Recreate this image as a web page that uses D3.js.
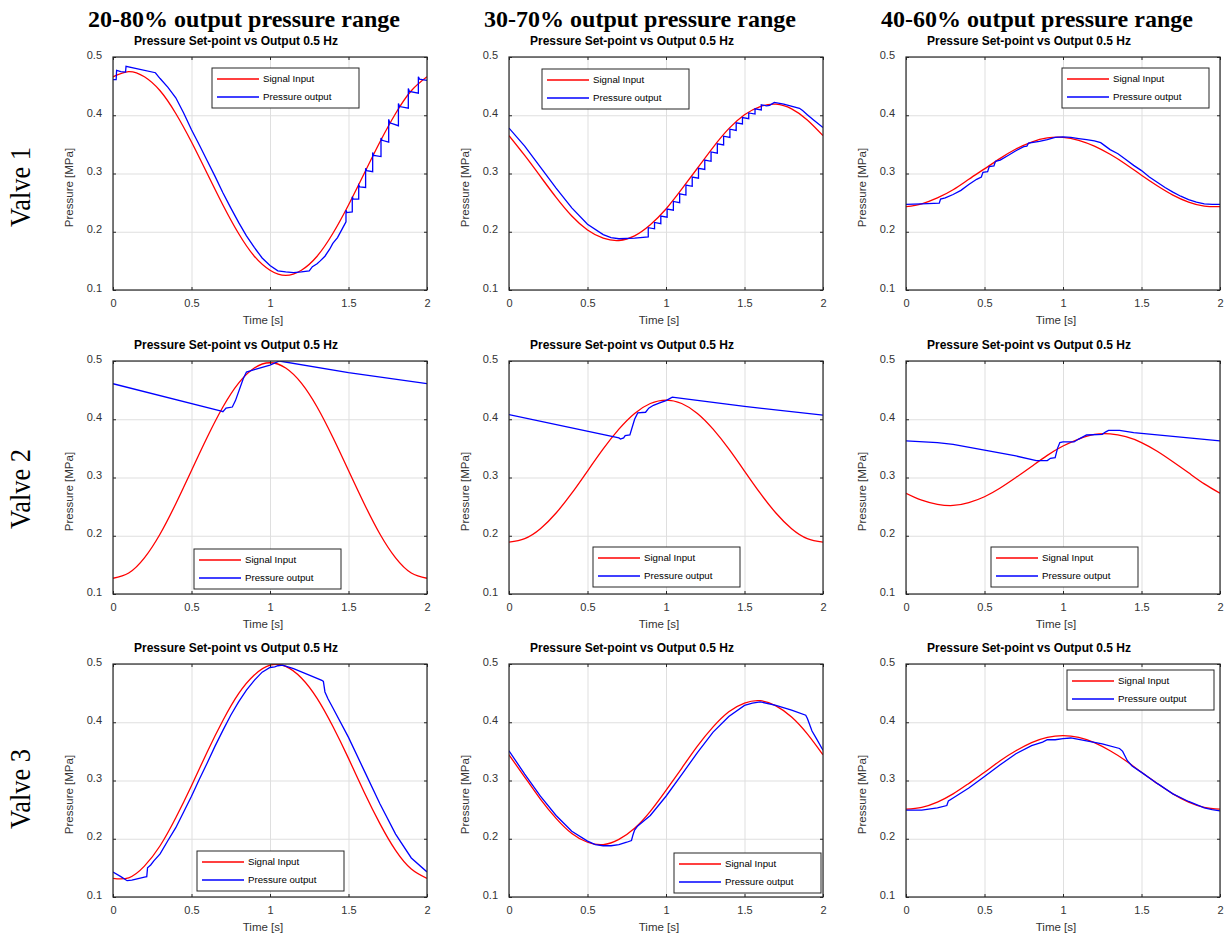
<!DOCTYPE html>
<html>
<head>
<meta charset="utf-8">
<script src="https://cdn.jsdelivr.net/npm/d3@7/dist/d3.min.js"></script>
<style>
  body { margin: 0; background: #fff; }
  svg text { font-family: "Liberation Sans", Arial, sans-serif; }
</style>
</head>
<body>
<svg id="chart" width="1225" height="939"></svg>
<script>
const columnTitles = ['20-80% output pressure range', '30-70% output pressure range', '40-60% output pressure range'];
const rowTitles = ['Valve 1', 'Valve 2', 'Valve 3'];
const plotTitle = 'Pressure Set-point vs Output 0.5 Hz';
const seriesNames = ['Signal Input', 'Pressure output'];
const xTicks = [0, 0.5, 1, 1.5, 2];
const yTicks = [0.1, 0.2, 0.3, 0.4, 0.5];

// sample times of the set-point curves
const timeGrid = [0, 0.1, 0.2, 0.3, 0.4, 0.5, 0.6, 0.7, 0.8, 0.9, 1, 1.1, 1.2, 1.3, 1.4, 1.5, 1.6, 1.7, 1.8, 1.9, 2];

// signal input (set-point), MPa
const inV1_2080 = [0.466, 0.475, 0.466, 0.442, 0.403, 0.354, 0.300, 0.246, 0.197, 0.158, 0.134, 0.125, 0.134, 0.158, 0.197, 0.246, 0.300, 0.354, 0.403, 0.442, 0.466];
const inV1_3070 = [0.365, 0.331, 0.295, 0.259, 0.227, 0.203, 0.189, 0.185, 0.193, 0.212, 0.239, 0.273, 0.309, 0.345, 0.377, 0.401, 0.415, 0.419, 0.411, 0.392, 0.365];
const inV1_4060 = [0.243, 0.248, 0.258, 0.272, 0.290, 0.308, 0.326, 0.342, 0.354, 0.361, 0.362, 0.357, 0.347, 0.333, 0.316, 0.297, 0.279, 0.263, 0.251, 0.244, 0.243];
const inV2_2080 = [0.127, 0.136, 0.162, 0.203, 0.255, 0.312, 0.369, 0.421, 0.462, 0.488, 0.497, 0.488, 0.462, 0.421, 0.369, 0.312, 0.255, 0.203, 0.162, 0.136, 0.127];
const inV2_3070 = [0.189, 0.195, 0.212, 0.239, 0.273, 0.311, 0.349, 0.383, 0.410, 0.427, 0.433, 0.427, 0.410, 0.383, 0.349, 0.311, 0.273, 0.239, 0.212, 0.195, 0.189];
const inV2_4060 = [0.273, 0.261, 0.254, 0.252, 0.257, 0.267, 0.282, 0.300, 0.319, 0.338, 0.354, 0.366, 0.374, 0.375, 0.370, 0.360, 0.345, 0.327, 0.308, 0.289, 0.273];
const inV3_2080 = [0.132, 0.133, 0.153, 0.188, 0.236, 0.291, 0.349, 0.403, 0.449, 0.481, 0.498, 0.496, 0.476, 0.441, 0.393, 0.338, 0.280, 0.226, 0.180, 0.148, 0.132];
const inV3_3070 = [0.344, 0.306, 0.268, 0.235, 0.209, 0.194, 0.190, 0.199, 0.218, 0.247, 0.283, 0.321, 0.359, 0.392, 0.418, 0.433, 0.437, 0.428, 0.409, 0.380, 0.344];
const inV3_4060 = [0.251, 0.254, 0.263, 0.277, 0.295, 0.314, 0.334, 0.351, 0.365, 0.374, 0.377, 0.374, 0.365, 0.351, 0.334, 0.314, 0.295, 0.277, 0.263, 0.254, 0.251];

// measured pressure output, [time s, MPa]
const outV1_2080 = [[0,0.461],[0.02,0.461],[0.023,0.477],[0.05,0.475],[0.08,0.474],[0.083,0.484],[0.15,0.480],[0.27,0.473],[0.30,0.463],[0.35,0.448],[0.40,0.430],[0.45,0.404],[0.50,0.375],[0.55,0.349],[0.60,0.322],[0.65,0.295],[0.70,0.267],[0.75,0.241],[0.80,0.216],[0.85,0.193],[0.90,0.173],[0.95,0.155],[1.00,0.142],[1.05,0.133],[1.10,0.131],[1.15,0.130],[1.20,0.131],[1.25,0.133],[1.27,0.140],[1.30,0.145],[1.32,0.150],[1.35,0.158],[1.38,0.170],[1.40,0.180],[1.43,0.190],[1.46,0.205],[1.484,0.217],[1.484,0.237],[1.49,0.233],[1.524,0.234],[1.524,0.260],[1.53,0.256],[1.565,0.256],[1.565,0.280],[1.572,0.277],[1.609,0.276],[1.609,0.309],[1.616,0.305],[1.654,0.303],[1.654,0.336],[1.661,0.331],[1.707,0.329],[1.707,0.361],[1.714,0.357],[1.756,0.354],[1.756,0.393],[1.763,0.387],[1.818,0.382],[1.818,0.420],[1.825,0.415],[1.881,0.412],[1.881,0.446],[1.888,0.441],[1.945,0.438],[1.945,0.466],[1.952,0.462],[2.0,0.460]];
const outV1_3070 = [[0,0.378],[0.1,0.347],[0.2,0.311],[0.3,0.275],[0.4,0.241],[0.5,0.213],[0.6,0.195],[0.65,0.190],[0.7,0.188],[0.8,0.189],[0.887,0.191],[0.887,0.207],[0.927,0.205],[0.927,0.216],[0.967,0.214],[0.967,0.227],[1.007,0.225],[1.007,0.239],[1.047,0.237],[1.047,0.252],[1.087,0.250],[1.087,0.265],[1.127,0.263],[1.127,0.280],[1.167,0.278],[1.167,0.294],[1.207,0.292],[1.207,0.309],[1.247,0.307],[1.247,0.323],[1.287,0.321],[1.287,0.337],[1.327,0.335],[1.327,0.351],[1.367,0.349],[1.367,0.364],[1.407,0.362],[1.407,0.376],[1.447,0.374],[1.447,0.387],[1.487,0.385],[1.487,0.396],[1.527,0.394],[1.527,0.404],[1.567,0.402],[1.567,0.411],[1.607,0.409],[1.607,0.418],[1.64,0.416],[1.66,0.417],[1.69,0.422],[1.75,0.419],[1.85,0.412],[1.87,0.408],[1.9,0.401],[1.94,0.392],[2.0,0.379]];
const outV1_4060 = [[0,0.247],[0.1,0.248],[0.212,0.249],[0.22,0.256],[0.25,0.258],[0.3,0.264],[0.35,0.271],[0.4,0.281],[0.45,0.290],[0.48,0.294],[0.49,0.302],[0.52,0.303],[0.53,0.312],[0.56,0.313],[0.57,0.321],[0.6,0.323],[0.65,0.331],[0.7,0.339],[0.75,0.346],[0.77,0.347],[0.78,0.352],[0.85,0.355],[0.9,0.358],[0.95,0.362],[1.0,0.363],[1.05,0.362],[1.1,0.360],[1.15,0.358],[1.2,0.356],[1.24,0.353],[1.27,0.347],[1.3,0.341],[1.35,0.334],[1.4,0.324],[1.45,0.314],[1.5,0.305],[1.55,0.294],[1.6,0.285],[1.65,0.276],[1.7,0.268],[1.75,0.261],[1.8,0.255],[1.85,0.251],[1.9,0.248],[1.95,0.247],[2.0,0.247]];
const outV2_2080 = [[0,0.461],[0.69,0.414],[0.70,0.413],[0.72,0.419],[0.76,0.421],[0.78,0.432],[0.83,0.470],[0.85,0.481],[0.90,0.485],[1.0,0.493],[1.06,0.500],[1.5,0.480],[2.0,0.461]];
const outV2_3070 = [[0,0.408],[0.70,0.368],[0.71,0.366],[0.73,0.368],[0.74,0.372],[0.77,0.373],[0.80,0.400],[0.82,0.411],[0.87,0.412],[0.89,0.419],[0.92,0.424],[0.96,0.428],[1.0,0.432],[1.04,0.438],[1.1,0.436],[1.5,0.422],[2.0,0.407]];
const outV2_4060 = [[0,0.363],[0.2,0.360],[0.3,0.357],[0.5,0.347],[0.7,0.337],[0.83,0.329],[0.90,0.329],[0.92,0.333],[0.95,0.334],[0.965,0.350],[0.98,0.360],[1.0,0.361],[1.07,0.361],[1.1,0.366],[1.15,0.373],[1.25,0.374],[1.27,0.378],[1.29,0.381],[1.36,0.381],[1.45,0.377],[1.6,0.373],[1.8,0.368],[2.0,0.363]];
const outV3_2080 = [[0,0.143],[0.05,0.135],[0.09,0.128],[0.12,0.129],[0.2,0.134],[0.215,0.135],[0.22,0.150],[0.24,0.155],[0.26,0.162],[0.3,0.174],[0.35,0.197],[0.4,0.219],[0.45,0.246],[0.5,0.273],[0.55,0.302],[0.6,0.330],[0.65,0.359],[0.7,0.386],[0.75,0.412],[0.8,0.435],[0.85,0.455],[0.9,0.472],[0.95,0.486],[1.0,0.494],[1.03,0.495],[1.05,0.497],[1.08,0.498],[1.15,0.492],[1.25,0.481],[1.33,0.472],[1.34,0.470],[1.35,0.452],[1.37,0.440],[1.4,0.425],[1.5,0.374],[1.6,0.317],[1.7,0.260],[1.8,0.208],[1.9,0.167],[2.0,0.143]];
const outV3_3070 = [[0,0.351],[0.1,0.311],[0.2,0.273],[0.3,0.240],[0.4,0.213],[0.5,0.196],[0.55,0.190],[0.6,0.188],[0.65,0.188],[0.7,0.190],[0.75,0.194],[0.78,0.197],[0.79,0.207],[0.80,0.215],[0.82,0.222],[0.9,0.240],[1.0,0.273],[1.1,0.310],[1.2,0.348],[1.3,0.383],[1.4,0.410],[1.5,0.429],[1.55,0.433],[1.6,0.435],[1.7,0.429],[1.8,0.421],[1.89,0.412],[1.9,0.407],[1.93,0.385],[1.96,0.371],[2.0,0.352]];
const outV3_4060 = [[0,0.249],[0.1,0.249],[0.2,0.253],[0.26,0.257],[0.27,0.265],[0.3,0.270],[0.4,0.287],[0.5,0.307],[0.6,0.327],[0.7,0.346],[0.8,0.360],[0.87,0.366],[0.9,0.370],[0.95,0.370],[1.0,0.372],[1.05,0.373],[1.15,0.368],[1.25,0.363],[1.36,0.355],[1.38,0.350],[1.41,0.334],[1.44,0.325],[1.5,0.314],[1.6,0.295],[1.7,0.277],[1.8,0.264],[1.9,0.253],[1.95,0.250],[2.0,0.248]];

const panels = [
  [inV1_2080, outV1_2080], [inV1_3070, outV1_3070], [inV1_4060, outV1_4060],
  [inV2_2080, outV2_2080], [inV2_3070, outV2_3070], [inV2_4060, outV2_4060],
  [inV3_2080, outV3_2080], [inV3_3070, outV3_3070], [inV3_4060, outV3_4060]
];

// layout
const colLeft = [113, 509, 906];
const rowTop = [57, 361, 664];
const plotW = 314, plotH = 233;
const rowLabelY = [187, 489, 789];
const legendOffset = [[99, 11], [33, 12], [156, 11], [81, 188], [84, 186], [85, 186], [84, 187], [165, 189], [161, 6]];
const colors = ['#ff0000', '#0000ff'];
const axisColor = '#262626';

const svg = d3.select('#chart');

const x = d3.scaleLinear().domain([0, 2]).range([0, plotW]);
const y = d3.scaleLinear().domain([0.1, 0.5]).range([plotH, 0]);

const inputLine = d3.line()
    .x((d, i) => x(timeGrid[i]))
    .y(d => y(d))
    .curve(d3.curveNatural);
const outputLine = d3.line()
    .x(d => x(d[0]))
    .y(d => y(d[1]));

columnTitles.forEach((t, c) => {
  svg.append('text')
    .attr('x', colLeft[c] + plotW / 2 - 26)
    .attr('y', 27)
    .attr('text-anchor', 'middle')
    .style('font-family', '"Liberation Serif", "Times New Roman", serif')
    .style('font-weight', 'bold')
    .style('font-size', '24px')
    .text(t);
});

rowTitles.forEach((t, r) => {
  svg.append('text')
    .attr('transform', `translate(30,${rowLabelY[r]}) rotate(-90)`)
    .attr('text-anchor', 'middle')
    .attr('textLength', 80)
    .attr('lengthAdjust', 'spacingAndGlyphs')
    .style('font-family', '"Liberation Serif", "Times New Roman", serif')
    .style('font-size', '30px')
    .text(t);
});

panels.forEach((p, k) => {
  const r = Math.floor(k / 3), c = k % 3;
  const g = svg.append('g')
      .attr('transform', `translate(${colLeft[c]},${rowTop[r]})`);

  // grid
  g.append('g')
      .attr('transform', `translate(0,${plotH})`)
      .call(d3.axisBottom(x).tickValues(xTicks).tickSize(-plotH).tickFormat(''))
      .call(a => a.select('.domain').remove())
      .selectAll('line').attr('stroke', '#dfdfdf');
  g.append('g')
      .call(d3.axisLeft(y).tickValues(yTicks).tickSize(-plotW).tickFormat(''))
      .call(a => a.select('.domain').remove())
      .selectAll('line').attr('stroke', '#dfdfdf');

  const clipId = 'clip' + k;
  g.append('clipPath').attr('id', clipId)
    .append('rect').attr('width', plotW).attr('height', plotH);

  const lines = g.append('g').attr('clip-path', `url(#${clipId})`);
  lines.append('path')
      .datum(p[0])
      .attr('d', inputLine)
      .attr('fill', 'none')
      .attr('stroke', colors[0])
      .attr('stroke-width', 1.3);
  lines.append('path')
      .datum(p[1])
      .attr('d', outputLine)
      .attr('fill', 'none')
      .attr('stroke', colors[1])
      .attr('stroke-width', 1.3);

  // axes with inward ticks on all four sides
  const xb = g.append('g')
      .attr('transform', `translate(0,${plotH})`)
      .call(d3.axisBottom(x).tickValues(xTicks).tickSize(-3).tickPadding(9).tickFormat(d3.format('')));
  const yl = g.append('g')
      .call(d3.axisLeft(y).tickValues(yTicks).tickSize(-3).tickPadding(11).tickFormat(d3.format('.1f')));
  const xt = g.append('g')
      .call(d3.axisTop(x).tickValues(xTicks).tickSize(-3).tickFormat(''));
  const yr = g.append('g')
      .attr('transform', `translate(${plotW},0)`)
      .call(d3.axisRight(y).tickValues(yTicks).tickSize(-3).tickFormat(''));
  [xb, yl, xt, yr].forEach(a => {
    a.select('.domain').remove();
    a.selectAll('line').attr('stroke', axisColor);
    a.selectAll('text')
      .attr('fill', '#333')
      .style('font-size', '11px')
      .style('font-family', '"Liberation Sans", Arial, sans-serif');
  });
  yl.selectAll('text').attr('dy', '0.1em');

  g.append('rect')
      .attr('width', plotW)
      .attr('height', plotH)
      .attr('fill', 'none')
      .attr('stroke', axisColor)
      .attr('stroke-width', 1.2);

  g.append('text')
      .attr('x', plotW / 2 - 34)
      .attr('y', -12)
      .attr('text-anchor', 'middle')
      .style('font-weight', 'bold')
      .style('font-size', '12px')
      .text(plotTitle);

  g.append('text')
      .attr('x', plotW / 2 - 7)
      .attr('y', plotH + 34)
      .attr('text-anchor', 'middle')
      .attr('fill', '#333')
      .style('font-size', '11.5px')
      .text('Time [s]');

  g.append('text')
      .attr('transform', `translate(-40,${plotH / 2 + 14}) rotate(-90)`)
      .attr('text-anchor', 'middle')
      .attr('fill', '#333')
      .style('font-size', '11.5px')
      .text('Pressure [MPa]');

  // legend
  const lg = g.append('g')
      .attr('transform', `translate(${legendOffset[k][0]},${legendOffset[k][1]})`);
  lg.append('rect')
      .attr('width', 147)
      .attr('height', 40)
      .attr('fill', '#fff')
      .attr('stroke', axisColor)
      .attr('stroke-width', 1);
  seriesNames.forEach((name, i) => {
    const ly = 11 + i * 18;
    lg.append('line')
        .attr('x1', 5).attr('x2', 47)
        .attr('y1', ly).attr('y2', ly)
        .attr('stroke', colors[i])
        .attr('stroke-width', 1.3);
    lg.append('text')
        .attr('x', 51)
        .attr('y', ly)
        .attr('dy', '0.35em')
        .style('font-size', '9.7px')
        .text(name);
  });
});
</script>
</body>
</html>
